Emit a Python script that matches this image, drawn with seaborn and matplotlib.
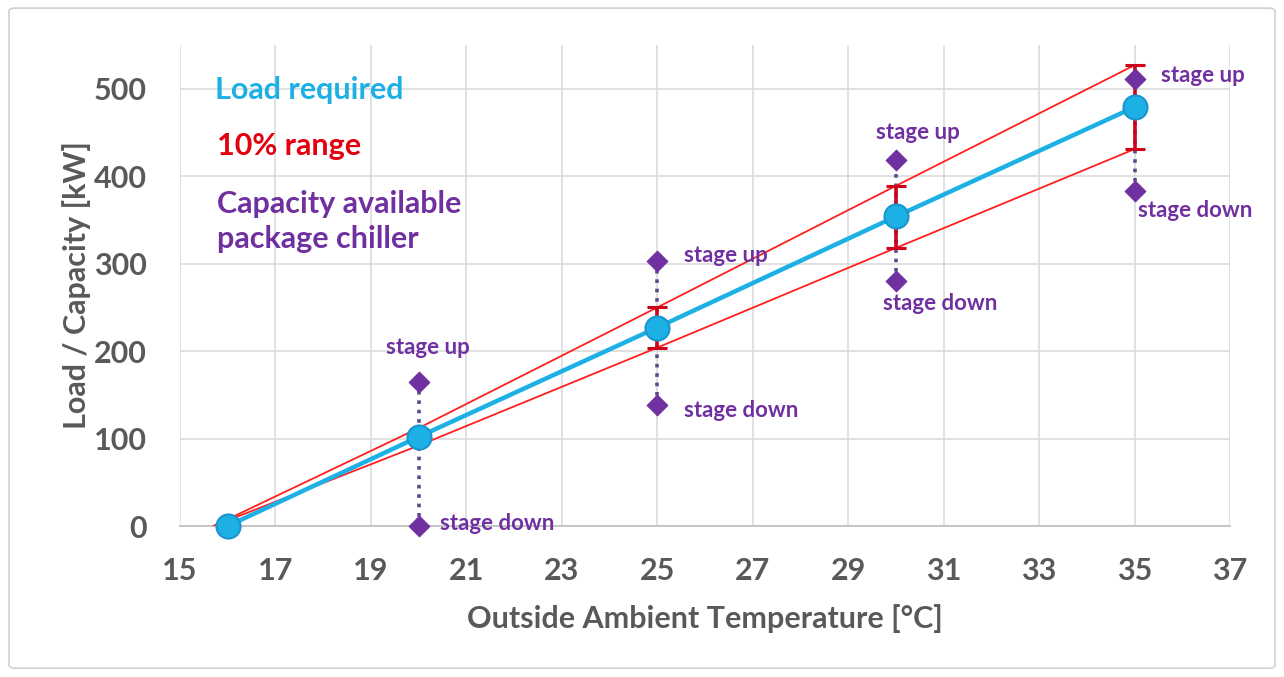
import numpy as np
import pandas as pd
import matplotlib
matplotlib.use("Agg")
import matplotlib.pyplot as plt
import seaborn as sns
from matplotlib.patches import FancyBboxPatch

# data
temps = [16, 20, 25, 30, 35]
load = [0, 102, 227, 354, 479]
range_x = [15.7, 20, 25, 30, 35]
range_upper = [0, 112, 250, 389, 527]
range_lower = [0, 92, 204, 318, 431]
stage_x = [20, 25, 30, 35]
stage_up = [165, 303, 419, 511]
stage_down = [0, 138, 280, 383]
err_x = [25, 30, 35]
err_y = [227, 354, 479]
err_lo = [23, 36, 48]
err_hi = [23, 35, 48]

# label positions (data coords)
up_labels = [(20.2, 204, "center"), (25.55, 309, "left"), (30.45, 450, "center"), (35.55, 515, "left")]
down_labels = [(20.45, 3, "left"), (25.55, 132, "left"), (30.92, 255, "center"), (35.07, 361, "left")]

sns.set_theme(style="white")
plt.rcParams["font.family"] = ["Lato", "DejaVu Sans"]
plt.rcParams["font.weight"] = "bold"

GRAY = "#595959"
CYAN = "#1cb0e4"
RED = "#ff1f1f"
DARKRED = "#d0021b"
PURPLE = "#7030a0"

fig = plt.figure(figsize=(12.84, 6.77), dpi=100)
ax = fig.add_axes([0.1402, 0.223, 0.8178, 0.7105])

fig.patches.append(FancyBboxPatch((0.007, 0.013), 0.986, 0.975, boxstyle="round,pad=0,rounding_size=0.005",
                                  transform=fig.transFigure, fill=False, edgecolor="#d0d0d0", lw=1.2))

# dotted stage connectors
for x, lo, hi in zip(stage_x, stage_down, stage_up):
    ax.plot([x, x], [lo, hi], linestyle=(0, (1, 1.6)), color="#5a4b8c", lw=2.6, zorder=2)

df_range = pd.DataFrame({"x": range_x, "upper": range_upper, "lower": range_lower})
sns.lineplot(data=df_range, x="x", y="upper", color=RED, lw=1.3, ax=ax, zorder=3)
sns.lineplot(data=df_range, x="x", y="lower", color=RED, lw=1.3, ax=ax, zorder=3)

ax.errorbar(err_x, err_y, yerr=[err_lo, err_hi], fmt="none", ecolor=DARKRED, elinewidth=2.6,
            capsize=7, capthick=2.2, zorder=4)

df_load = pd.DataFrame({"x": temps, "y": load})
sns.lineplot(data=df_load, x="x", y="y", color=CYAN, lw=3.2, ax=ax, zorder=5)
ax.scatter(temps, load, s=300, color=CYAN, edgecolor="#1a95cf", linewidth=1.5, zorder=6, clip_on=False)

df_stage = pd.DataFrame({"x": stage_x * 2, "y": stage_up + stage_down})
sns.scatterplot(data=df_stage, x="x", y="y", marker="D", s=110, color=PURPLE, edgecolor=PURPLE,
                ax=ax, zorder=7, clip_on=False)

for x, y, ha in up_labels:
    ax.text(x, y, "stage up", color=PURPLE, fontsize=16, fontweight="bold", ha=ha, va="center")
for x, y, ha in down_labels:
    ax.text(x, y, "stage down", color=PURPLE, fontsize=16, fontweight="bold", ha=ha, va="center")

ax.text(15.73, 498, "Load required", color=CYAN, fontsize=22, fontweight="bold", va="center")
ax.text(15.78, 435, "10% range", color="#e3000f", fontsize=22, fontweight="bold", va="center")
ax.text(15.78, 348, "Capacity available\npackage chiller", color=PURPLE, fontsize=22, fontweight="bold",
        va="center", linespacing=1.3)

ax.set_xlim(15, 37)
ax.set_ylim(0, 550)
ax.set_xticks(np.arange(15, 38, 2))
ax.set_yticks(np.arange(0, 501, 100))
ax.grid(True, color="#d9d9d9", lw=1.1)
ax.set_axisbelow(True)
for s in ["top", "right", "left"]:
    ax.spines[s].set_visible(False)
ax.spines["bottom"].set_color("#bfbfbf")
ax.tick_params(axis="both", length=0, labelsize=22, labelcolor=GRAY)
ax.tick_params(axis="x", pad=22)
ax.tick_params(axis="y", pad=24)
for lbl in ax.get_xticklabels() + ax.get_yticklabels():
    lbl.set_fontweight("bold")

ax.set_xlabel("Outside Ambient Temperature [°C]", fontsize=22, color=GRAY, fontweight="bold", labelpad=14)
ax.set_ylabel("Load / Capacity [kW]", fontsize=22, color=GRAY, fontweight="bold", labelpad=2)

fig.savefig("out.png", dpi=100)
